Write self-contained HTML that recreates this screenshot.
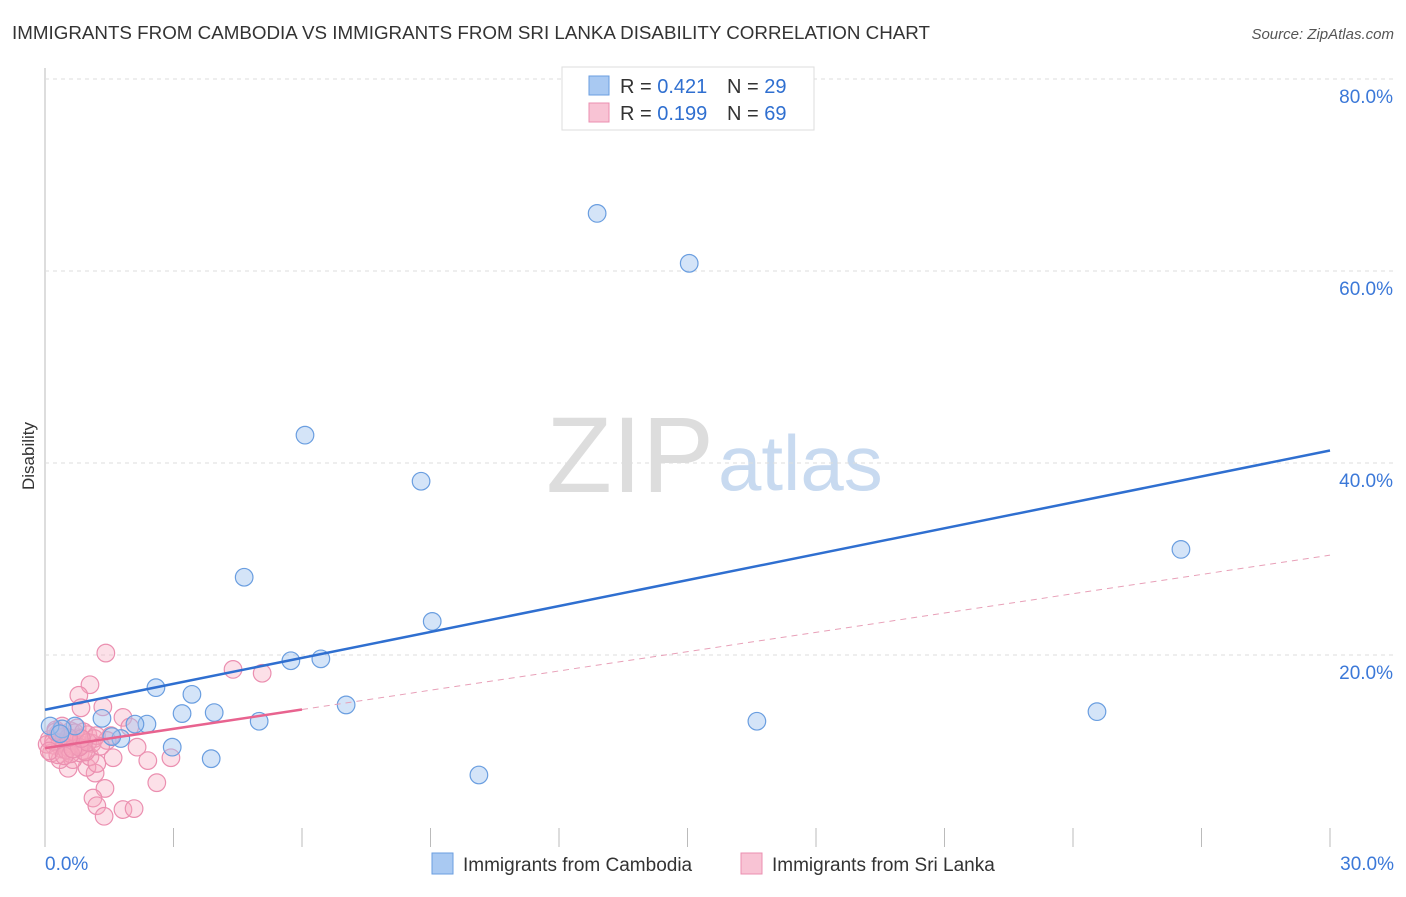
<!DOCTYPE html>
<html><head><meta charset="utf-8"><style>
body{margin:0;background:#fff;font-family:"Liberation Sans",sans-serif}
svg text{font-family:"Liberation Sans",sans-serif}
</style></head><body>
<svg id="c" width="1406" height="892" xmlns="http://www.w3.org/2000/svg">
<text x="12" y="39" font-size="18" fill="#333" textLength="918" lengthAdjust="spacingAndGlyphs">IMMIGRANTS FROM CAMBODIA VS IMMIGRANTS FROM SRI LANKA DISABILITY CORRELATION CHART</text>
<text x="1394" y="39" font-size="15" fill="#555" text-anchor="end" font-style="italic">Source: ZipAtlas.com</text>
<text x="714" y="492" font-size="108" fill="#ddd" text-anchor="end" font-family="Liberation Serif">ZIP</text>
<text x="718" y="490" font-size="78" fill="#c8daf0">atlas</text>
<text transform="translate(34,456) rotate(-90)" font-size="17" fill="#333" text-anchor="middle">Disability</text>
<g id="grid"></g><g id="marks"></g>
<g>
<rect x="562" y="67" width="252" height="63" fill="#fff" stroke="#ddd"/>
<rect x="589" y="76" width="20" height="19" fill="#a9c9f2" stroke="#6a9ee0"/>
<rect x="589" y="103" width="20" height="19" fill="#f8c3d4" stroke="#eb8fb0"/>
<text x="620" y="93" font-size="20" fill="#333">R = <tspan fill="#2f6fd0">0.421</tspan></text>
<text x="727" y="93" font-size="20" fill="#333">N = <tspan fill="#2f6fd0">29</tspan></text>
<text x="620" y="120" font-size="20" fill="#333">R = <tspan fill="#2f6fd0">0.199</tspan></text>
<text x="727" y="120" font-size="20" fill="#333">N = <tspan fill="#2f6fd0">69</tspan></text>
</g>
<g>
<rect x="432" y="853" width="21" height="21" fill="#a9c9f2" stroke="#6a9ee0"/>
<text x="463" y="871" font-size="19" fill="#333">Immigrants from Cambodia</text>
<rect x="741" y="853" width="21" height="21" fill="#f8c3d4" stroke="#eb8fb0"/>
<text x="772" y="871" font-size="19" fill="#333">Immigrants from Sri Lanka</text>
</g>
</svg>
<script>
const yTicks=[20,40,60,80];
const xTickLabels=["0.0%","30.0%"];
const cambodiaX=[12.89,15.04,6.07,8.78,4.65,9.04,26.52,5.74,6.44,2.59,3.43,3.20,3.95,5.00,7.03,2.38,1.33,16.62,24.56,2.97,3.88,10.13,1.77,1.56,0.70,0.40,0.12,2.10,0.35];
const cambodiaY=[66.0,60.8,42.9,38.1,28.1,23.5,31.0,19.4,19.6,16.6,15.9,13.9,14.0,13.1,14.8,12.8,13.4,13.1,14.1,10.4,9.2,7.5,11.3,11.5,12.6,12.3,12.6,12.8,11.8];
const lankaX=[1.42,1.05,0.79,0.84,1.35,1.82,4.39,5.07,1.54,2.15,2.40,1.59,2.94,2.61,1.40,1.12,1.21,1.38,1.82,2.08,1.17,0.98,0.54,0.35,0.65,0.82,1.05,1.21,1.98,1.45,
0.1,0.2,0.3,0.4,0.5,0.6,0.7,0.8,0.9,1.0,1.1,0.15,0.25,0.35,0.45,0.55,0.65,0.75,0.85,0.95,1.15,0.05,0.3,0.5,0.7,0.9,0.2,0.4,0.6,0.8,1.0,1.2,0.1,0.45,0.65,0.85,1.3,0.55,0.25];
const lankaY=[20.2,16.9,15.8,14.5,14.6,13.5,18.5,18.1,11.6,10.4,9.0,9.3,9.3,6.7,6.1,5.1,4.3,3.2,3.9,4.0,7.7,8.3,8.2,9.1,9.1,9.8,9.4,8.7,12.5,11.1,
11.2,10.6,11.8,10.2,11.0,12.1,10.5,11.4,10.0,11.7,10.8,9.8,12.2,10.9,11.5,10.3,11.1,12.4,10.6,9.9,11.3,10.7,9.6,10.1,11.9,12.0,11.0,12.6,9.7,10.4,10.9,11.6,10.0,9.5,10.2,11.3,10.5,11.4,12.0];
const cambodiaTrend=[14.3,41.3];
const lankaTrend=[10.3,30.4];
const lankaSolidEnd=6;
const X=v=>45+v*(1285/30), Y=v=>847-v*9.6;
const ns="http://www.w3.org/2000/svg";
function mk(tag,attrs,parent){const e=document.createElementNS(ns,tag);for(const k in attrs)e.setAttribute(k,attrs[k]);parent.appendChild(e);return e;}
const g=document.getElementById('grid'), m=document.getElementById('marks');
let ax=mk('line',{x1:45,y1:68,x2:45,y2:847,stroke:'#bbb'},g);


yTicks.forEach(t=>{
 const l=mk('line',{x1:45,x2:1393,y1:Y(t),y2:Y(t),stroke:'#ddd','stroke-dasharray':'4,4'},g);
 
 
 const tx=mk('text',{x:1393,y:Y(t)+24,'font-size':19,fill:'#3b78d8','text-anchor':'end'},g);
 tx.textContent=t.toFixed(1)+'%';
 
 
});
for(let i=0;i<=10;i++){
 const l=mk('line',{x1:X(i*3),x2:X(i*3),y1:828,y2:847,stroke:'#bbb'},g);
 
 
}
[[0,'start'],[30,'end']].forEach((d,i)=>{
 const tx=mk('text',{x:d[0]?1394:45,y:870,'font-size':19,fill:'#3b78d8','text-anchor':d[1]},g);
 tx.textContent=xTickLabels[i];
 
 
});
lankaX.forEach((x,i)=>{
 const c=mk('circle',{cx:X(x),cy:Y(lankaY[i]),r:8.8,fill:'rgba(245,165,190,0.35)',stroke:'#eb8fb0','stroke-width':1.2},m);
 
 
});
cambodiaX.forEach((x,i)=>{
 const c=mk('circle',{cx:X(x),cy:Y(cambodiaY[i]),r:8.8,fill:'rgba(160,196,240,0.45)',stroke:'#6a9ee0','stroke-width':1.2},m);
 
 
});
const lt=v=>lankaTrend[0]+(lankaTrend[1]-lankaTrend[0])*v/30;
let l1=mk('line',{x1:X(0),y1:Y(cambodiaTrend[0]),x2:X(30),y2:Y(cambodiaTrend[1]),stroke:'#2f6fd0','stroke-width':2.5},m);


let l2=mk('line',{x1:X(0),y1:Y(lt(0)),x2:X(lankaSolidEnd),y2:Y(lt(lankaSolidEnd)),stroke:'#e8638f','stroke-width':2.5},m);


let l3=mk('line',{x1:X(lankaSolidEnd),y1:Y(lt(lankaSolidEnd)),x2:X(30),y2:Y(lt(30)),stroke:'#e8a0b8','stroke-width':1,'stroke-dasharray':'6,5'},m);


</script>
</body></html>
